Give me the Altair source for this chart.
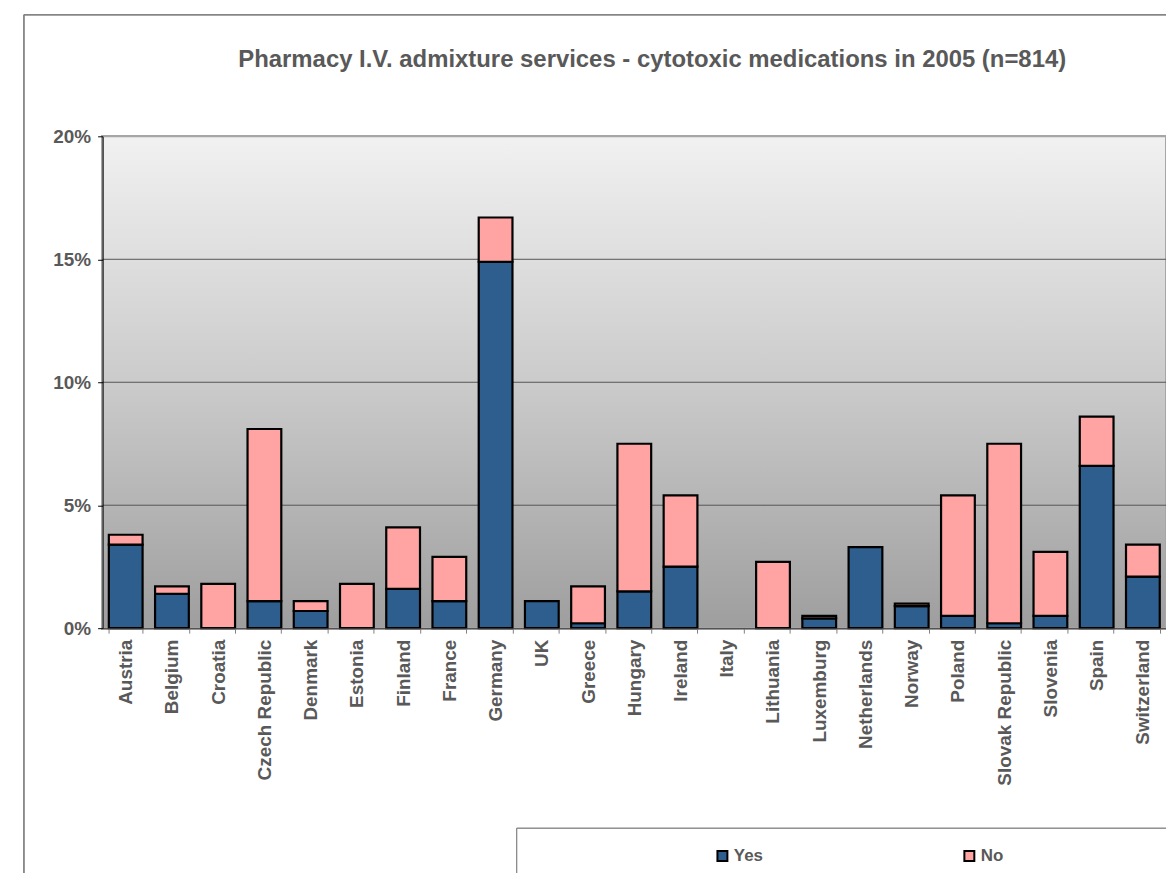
import altair as alt
import pandas as pd

countries = ["Austria", "Belgium", "Croatia", "Czech Republic", "Denmark", "Estonia",
             "Finland", "France", "Germany", "UK", "Greece", "Hungary", "Ireland",
             "Italy", "Lithuania", "Luxemburg", "Netherlands", "Norway", "Poland",
             "Slovak Republic", "Slovenia", "Spain", "Switzerland"]
yes_vals = [3.4, 1.4, 0.0, 1.1, 0.7, 0.0, 1.6, 1.1, 14.9, 1.1, 0.2, 1.5, 2.5,
            0.0, 0.0, 0.4, 3.3, 0.9, 0.5, 0.2, 0.5, 6.6, 2.1]
no_vals = [0.4, 0.3, 1.8, 7.0, 0.4, 1.8, 2.5, 1.8, 1.8, 0.0, 1.5, 6.0, 2.9,
           0.0, 2.7, 0.1, 0.0, 0.1, 4.9, 7.3, 2.6, 2.0, 1.3]
series = ["Yes", "No"]
series_colors = ["#2e5e8e", "#ffa3a3"]
y_ticks = [0, 5, 10, 15, 20]
grid_vals = [5, 10, 15]
title_text = "Pharmacy I.V. admixture services - cytotoxic medications in 2005 (n=814)"

rows = []
for c, y, n in zip(countries, yes_vals, no_vals):
    if y > 0:
        rows.append({"country": c, "answer": "Yes", "value": y, "ord": 0})
    if n > 0:
        rows.append({"country": c, "answer": "No", "value": n, "ord": 1})
df = pd.DataFrame(rows)
grid_df = pd.DataFrame({"g": grid_vals})

FONT = "Liberation Sans"
TXT = "#595959"
W, H = 1068, 494

xscale = alt.Scale(domain=countries, paddingInner=0.27, paddingOuter=0.135)
yscale = alt.Scale(domain=[0, 20], nice=False)

bg = alt.Chart(df).mark_rect(
    fill=alt.Gradient(gradient="linear", x1=0, x2=0, y1=0, y2=1,
                      stops=[alt.GradientStop(offset=0, color="#f1f1f1"),
                             alt.GradientStop(offset=0.5, color="#cbcbcb"),
                             alt.GradientStop(offset=1, color="#9e9e9e")]),
    stroke="#a6a6a6", strokeWidth=2
).encode(x=alt.value(0), x2=alt.value(W), y=alt.value(0), y2=alt.value(H))

grid = alt.Chart(grid_df).mark_rule(color="#555555", strokeWidth=1).encode(
    y=alt.Y("g:Q", scale=yscale),
    x=alt.value(0), x2=alt.value(W)
)

bars = alt.Chart(df).mark_bar(stroke="black", strokeWidth=2.2).encode(
    x=alt.X("country:N", scale=xscale, sort=countries, title=None,
            axis=alt.Axis(labelAngle=270, labelAlign="right", labelBaseline="middle",
                          labelFont=FONT, labelFontSize=19, labelFontWeight="bold",
                          labelColor=TXT, labelPadding=6, tickBand="extent",
                          tickColor="#808080", tickSize=5, domainColor="#404040",
                          grid=False, zindex=1, labelLimit=300)),
    y=alt.Y("value:Q", stack="zero", scale=yscale, title=None,
            axis=alt.Axis(values=y_ticks, labelExpr="datum.value + '%'",
                          labelFont=FONT, labelFontSize=19, labelFontWeight="bold",
                          labelColor=TXT, labelPadding=7, tickColor="black", tickSize=5,
                          domainColor="black", grid=False, zindex=1)),
    color=alt.Color("answer:N", scale=alt.Scale(domain=series, range=series_colors),
                    legend=alt.Legend(orient="none", legendX=614, legendY=714,
                                      direction="horizontal", title=None,
                                      symbolType="square", symbolSize=100,
                                      symbolStrokeColor="black", symbolStrokeWidth=2,
                                      labelFont=FONT, labelFontSize=17,
                                      labelFontWeight="bold", labelColor=TXT,
                                      labelOffset=3, columnPadding=197)),
    order=alt.Order("ord:Q")
)

frame = alt.Chart(grid_df).mark_rect(fill="transparent", stroke="#808080", strokeWidth=1).encode(
    x=alt.value(-79), x2=alt.value(1300), y=alt.value(-122), y2=alt.value(1000))

legend_box = alt.Chart(grid_df).mark_rect(fill="white", stroke="#808080", strokeWidth=1).encode(
    x=alt.value(416), x2=alt.value(1300), y=alt.value(695), y2=alt.value(749))

chart = alt.layer(bg, grid, bars, frame, legend_box).properties(
    width=W, height=H,
    autosize=alt.AutoSizeParams(type="none"),
    padding={"left": 95, "top": 127, "right": 0, "bottom": 244},
    title=alt.Title(title_text, font=FONT, fontSize=24, fontWeight="bold",
                    color=TXT, anchor="middle", offset=-58, dx=18)
).configure_view(stroke=None)

chart.save("out.html", embed_options={"renderer": "svg", "actions": False})
